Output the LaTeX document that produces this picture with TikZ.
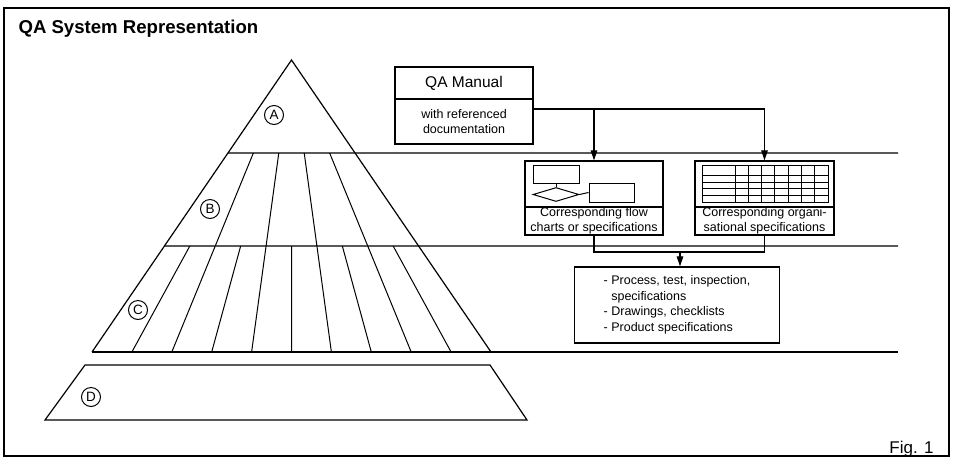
\documentclass[tikz,border=0pt]{standalone}
\usepackage{fontspec}
\setmainfont{Liberation Sans}
\usetikzlibrary{positioning,arrows.meta,calc,shapes.geometric}

\begin{document}
\begin{tikzpicture}[x=1pt,y=-1pt,
 box/.style={draw,line width=1.2pt,inner sep=0pt,align=center,font=\fontsize{12.5}{15}\selectfont},
 lbl/.style={circle,draw,line width=1pt,minimum size=19pt,inner sep=0pt,font=\fontsize{13.5}{13.5}\selectfont},
 ln/.style={line width=1.2pt},
 arr/.style={-{Triangle[length=10pt,width=6.5pt]},line width=1.1pt}]
\useasboundingbox (0,0) rectangle (953,459);
\draw[line width=1.6pt] (4,8) rectangle (949,456);
\node[anchor=base west,font=\bfseries\fontsize{18.6}{18.6}\selectfont] (title) at (15,33) {QA System Representation};
\node[anchor=base east,font=\fontsize{17}{17}\selectfont] (fig) at (937,453) {Fig. 1};
% pyramid
\coordinate (top) at (291.5,60);
\coordinate (L) at (92,352);\coordinate (R) at (491,352);
\coordinate (al) at ($(top)!.3185!(L)$);\coordinate (ar) at ($(top)!.3185!(R)$);
\coordinate (bl) at ($(top)!.637!(L)$);\coordinate (br) at ($(top)!.637!(R)$);
\draw[ln] (L) -- (top) -- (R);
\draw[ln] (al) -- (898,153);\draw[ln] (bl) -- (898,246);\draw[ln] (L) -- (898,352);
\foreach \i in {1,...,4} \draw[line width=1pt] ($(al)!\i/5!(ar)$) -- ($(bl)!\i/5!(br)$);
\foreach \i in {1,...,9} \draw[line width=1pt] ($(bl)!\i/10!(br)$) -- ($(L)!\i/10!(R)$);
\draw[ln] (85,365) -- (490,365) -- (527,420) -- (45,420) -- cycle;
\node[lbl] (A) at (274,115) {A};
\node[lbl] (B) at (210,209) {B};
\node[lbl] (C) at (138,310) {C};
\node[lbl] (D) at (91,397) {D};
% boxes
\node[box,minimum width=138pt,minimum height=32pt,font=\fontsize{15.5}{15.5}\selectfont] (qa) at (464,83) {QA Manual};
\node[box,minimum width=138pt,minimum height=45pt] (qadoc) at (464,121.5) {with referenced\\documentation};
\node[box,minimum width=138pt,minimum height=46pt] (flowpic) at (594,184) {};
\node[box,minimum width=138pt,minimum height=28pt] (flowtxt) at (594,221) {Corresponding flow\\charts or specifications};
\node[box,minimum width=139pt,minimum height=46pt] (orgpic) at (764.5,184) {};
\node[box,minimum width=139pt,minimum height=28pt] (orgtxt) at (764.5,221) {Corresponding organi-\\sational specifications};
\node[box,minimum width=205pt,minimum height=76pt,align=left,font=\fontsize{12.5}{15.5}\selectfont] (spec) at (677,305)
 {- Process, test, inspection,\\\phantom{- }specifications\\- Drawings, checklists\\- Product specifications};
% small flow chart
\node[draw,line width=1pt,minimum width=46pt,minimum height=18pt,inner sep=0pt] (fr1) at (556,174) {};
\node[draw,diamond,line width=1pt,minimum width=46pt,minimum height=14pt,inner sep=0pt] (fdia) at (556,194.5) {};
\node[draw,line width=1pt,minimum width=45pt,minimum height=19pt,inner sep=0pt] (fr2) at (611.5,192.5) {};
\draw[line width=1pt] (fr1.south) -- (fdia.north);
\draw[line width=1pt] (fdia.east) -- (fr2.west);
% small table
\draw[line width=1pt] (702,165) rectangle (828,202);
\foreach \y in {175,182,188,195} \draw[line width=.9pt] (702,\y) -- (828,\y);
\foreach \i in {0,...,6} \draw[line width=.9pt] (735+\i*13.3,165) -- (735+\i*13.3,202);
% connectors
\coordinate (qaout) at (qadoc.east |- 0,109);
\draw[ln] (qaout) -- (qaout -| orgpic.north);
\draw[arr] (qaout -| flowpic.north) -- (flowpic.north);
\draw[arr] (qaout -| orgpic.north) -- (orgpic.north);
\coordinate (join) at (680,252);
\draw[ln] (flowtxt.south) |- (join) -| (orgtxt.south);
\draw[arr] (join) -- (join |- spec.north);
\end{tikzpicture}
\end{document}
